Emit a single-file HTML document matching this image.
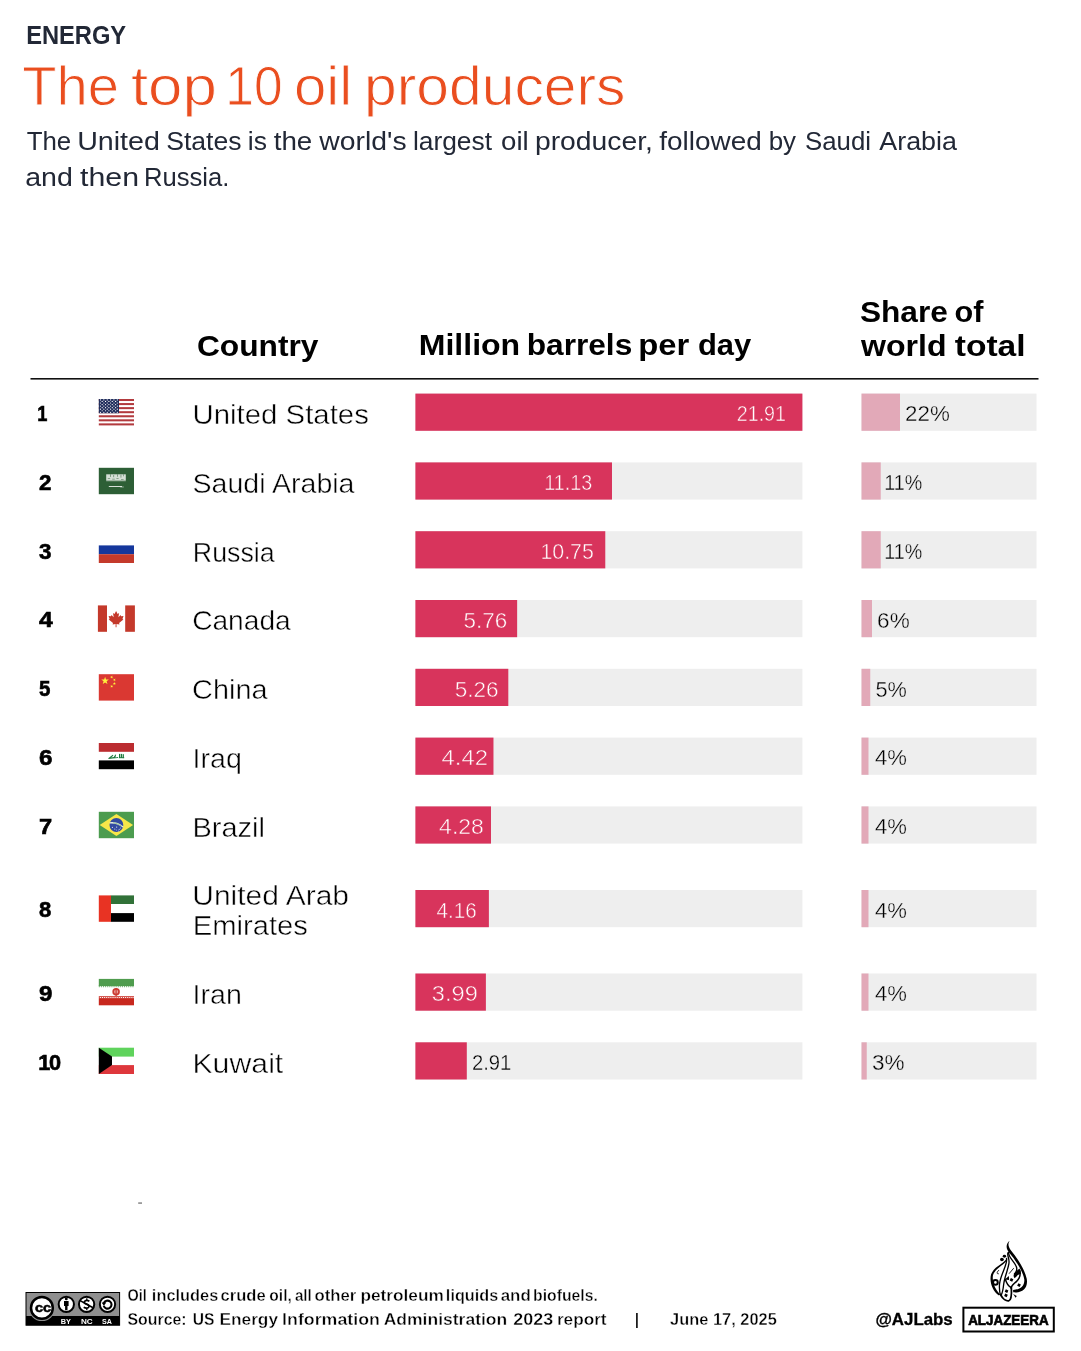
<!DOCTYPE html>
<html lang="en"><head><meta charset="utf-8"><title>The top 10 oil producers</title>
<style>html,body{margin:0;padding:0;background:#fff}svg{display:block}text{white-space:pre}</style></head>
<body>
<svg width="1081" height="1351" viewBox="0 0 1081 1351">
<rect width="1081" height="1351" fill="#fff"/>
<rect x="30.50" y="378.00" width="1008.00" height="1.60" fill="#111"/>
<rect x="415.40" y="393.60" width="387.00" height="37.20" fill="#eeeeee"/>
<rect x="415.40" y="393.60" width="387.00" height="37.20" fill="#d8345c"/>
<rect x="861.50" y="393.60" width="175.00" height="37.20" fill="#eeeeee"/>
<rect x="861.50" y="393.60" width="38.50" height="37.20" fill="#e2a9b8"/>
<rect x="415.40" y="462.40" width="387.00" height="37.20" fill="#eeeeee"/>
<rect x="415.40" y="462.40" width="196.59" height="37.20" fill="#d8345c"/>
<rect x="861.50" y="462.40" width="175.00" height="37.20" fill="#eeeeee"/>
<rect x="861.50" y="462.40" width="19.25" height="37.20" fill="#e2a9b8"/>
<rect x="415.40" y="531.20" width="387.00" height="37.20" fill="#eeeeee"/>
<rect x="415.40" y="531.20" width="189.88" height="37.20" fill="#d8345c"/>
<rect x="861.50" y="531.20" width="175.00" height="37.20" fill="#eeeeee"/>
<rect x="861.50" y="531.20" width="19.25" height="37.20" fill="#e2a9b8"/>
<rect x="415.40" y="600.00" width="387.00" height="37.20" fill="#eeeeee"/>
<rect x="415.40" y="600.00" width="101.74" height="37.20" fill="#d8345c"/>
<rect x="861.50" y="600.00" width="175.00" height="37.20" fill="#eeeeee"/>
<rect x="861.50" y="600.00" width="10.50" height="37.20" fill="#e2a9b8"/>
<rect x="415.40" y="668.80" width="387.00" height="37.20" fill="#eeeeee"/>
<rect x="415.40" y="668.80" width="92.91" height="37.20" fill="#d8345c"/>
<rect x="861.50" y="668.80" width="175.00" height="37.20" fill="#eeeeee"/>
<rect x="861.50" y="668.80" width="8.75" height="37.20" fill="#e2a9b8"/>
<rect x="415.40" y="737.60" width="387.00" height="37.20" fill="#eeeeee"/>
<rect x="415.40" y="737.60" width="78.07" height="37.20" fill="#d8345c"/>
<rect x="861.50" y="737.60" width="175.00" height="37.20" fill="#eeeeee"/>
<rect x="861.50" y="737.60" width="7.00" height="37.20" fill="#e2a9b8"/>
<rect x="415.40" y="806.40" width="387.00" height="37.20" fill="#eeeeee"/>
<rect x="415.40" y="806.40" width="75.60" height="37.20" fill="#d8345c"/>
<rect x="861.50" y="806.40" width="175.00" height="37.20" fill="#eeeeee"/>
<rect x="861.50" y="806.40" width="7.00" height="37.20" fill="#e2a9b8"/>
<rect x="415.40" y="890.00" width="387.00" height="37.20" fill="#eeeeee"/>
<rect x="415.40" y="890.00" width="73.48" height="37.20" fill="#d8345c"/>
<rect x="861.50" y="890.00" width="175.00" height="37.20" fill="#eeeeee"/>
<rect x="861.50" y="890.00" width="7.00" height="37.20" fill="#e2a9b8"/>
<rect x="415.40" y="973.50" width="387.00" height="37.20" fill="#eeeeee"/>
<rect x="415.40" y="973.50" width="70.48" height="37.20" fill="#d8345c"/>
<rect x="861.50" y="973.50" width="175.00" height="37.20" fill="#eeeeee"/>
<rect x="861.50" y="973.50" width="7.00" height="37.20" fill="#e2a9b8"/>
<rect x="415.40" y="1042.30" width="387.00" height="37.20" fill="#eeeeee"/>
<rect x="415.40" y="1042.30" width="51.40" height="37.20" fill="#d8345c"/>
<rect x="861.50" y="1042.30" width="175.00" height="37.20" fill="#eeeeee"/>
<rect x="861.50" y="1042.30" width="5.25" height="37.20" fill="#e2a9b8"/>
<g transform="translate(98.8 399.00)"><rect x="0" y="0.00" width="35.2" height="2.03" fill="#b23a3e"/><rect x="0" y="4.06" width="35.2" height="2.03" fill="#b23a3e"/><rect x="0" y="8.12" width="35.2" height="2.03" fill="#b23a3e"/><rect x="0" y="12.18" width="35.2" height="2.03" fill="#b23a3e"/><rect x="0" y="16.25" width="35.2" height="2.03" fill="#b23a3e"/><rect x="0" y="20.31" width="35.2" height="2.03" fill="#b23a3e"/><rect x="0" y="24.37" width="35.2" height="2.03" fill="#b23a3e"/><rect x="0" y="0" width="20.2" height="14.22" fill="#202d5c"/><circle cx="1.70" cy="0.90" r="0.62" fill="#fff"/><circle cx="5.06" cy="0.90" r="0.62" fill="#fff"/><circle cx="8.42" cy="0.90" r="0.62" fill="#fff"/><circle cx="11.78" cy="0.90" r="0.62" fill="#fff"/><circle cx="15.14" cy="0.90" r="0.62" fill="#fff"/><circle cx="18.50" cy="0.90" r="0.62" fill="#fff"/><circle cx="3.38" cy="2.45" r="0.62" fill="#fff"/><circle cx="6.74" cy="2.45" r="0.62" fill="#fff"/><circle cx="10.10" cy="2.45" r="0.62" fill="#fff"/><circle cx="13.46" cy="2.45" r="0.62" fill="#fff"/><circle cx="16.82" cy="2.45" r="0.62" fill="#fff"/><circle cx="1.70" cy="4.00" r="0.62" fill="#fff"/><circle cx="5.06" cy="4.00" r="0.62" fill="#fff"/><circle cx="8.42" cy="4.00" r="0.62" fill="#fff"/><circle cx="11.78" cy="4.00" r="0.62" fill="#fff"/><circle cx="15.14" cy="4.00" r="0.62" fill="#fff"/><circle cx="18.50" cy="4.00" r="0.62" fill="#fff"/><circle cx="3.38" cy="5.55" r="0.62" fill="#fff"/><circle cx="6.74" cy="5.55" r="0.62" fill="#fff"/><circle cx="10.10" cy="5.55" r="0.62" fill="#fff"/><circle cx="13.46" cy="5.55" r="0.62" fill="#fff"/><circle cx="16.82" cy="5.55" r="0.62" fill="#fff"/><circle cx="1.70" cy="7.10" r="0.62" fill="#fff"/><circle cx="5.06" cy="7.10" r="0.62" fill="#fff"/><circle cx="8.42" cy="7.10" r="0.62" fill="#fff"/><circle cx="11.78" cy="7.10" r="0.62" fill="#fff"/><circle cx="15.14" cy="7.10" r="0.62" fill="#fff"/><circle cx="18.50" cy="7.10" r="0.62" fill="#fff"/><circle cx="3.38" cy="8.65" r="0.62" fill="#fff"/><circle cx="6.74" cy="8.65" r="0.62" fill="#fff"/><circle cx="10.10" cy="8.65" r="0.62" fill="#fff"/><circle cx="13.46" cy="8.65" r="0.62" fill="#fff"/><circle cx="16.82" cy="8.65" r="0.62" fill="#fff"/><circle cx="1.70" cy="10.20" r="0.62" fill="#fff"/><circle cx="5.06" cy="10.20" r="0.62" fill="#fff"/><circle cx="8.42" cy="10.20" r="0.62" fill="#fff"/><circle cx="11.78" cy="10.20" r="0.62" fill="#fff"/><circle cx="15.14" cy="10.20" r="0.62" fill="#fff"/><circle cx="18.50" cy="10.20" r="0.62" fill="#fff"/><circle cx="3.38" cy="11.75" r="0.62" fill="#fff"/><circle cx="6.74" cy="11.75" r="0.62" fill="#fff"/><circle cx="10.10" cy="11.75" r="0.62" fill="#fff"/><circle cx="13.46" cy="11.75" r="0.62" fill="#fff"/><circle cx="16.82" cy="11.75" r="0.62" fill="#fff"/><circle cx="1.70" cy="13.30" r="0.62" fill="#fff"/><circle cx="5.06" cy="13.30" r="0.62" fill="#fff"/><circle cx="8.42" cy="13.30" r="0.62" fill="#fff"/><circle cx="11.78" cy="13.30" r="0.62" fill="#fff"/><circle cx="15.14" cy="13.30" r="0.62" fill="#fff"/><circle cx="18.50" cy="13.30" r="0.62" fill="#fff"/></g>
<g transform="translate(98.8 467.80)"><rect width="35.2" height="26.4" fill="#2d5f36"/><g fill="#fff"><rect x="7.4" y="6.5" width="19.6" height="6.3" opacity=".8"/><rect x="7.4" y="12.8" width="19.6" height="0.8" opacity=".35"/><g fill="#2d5f36" opacity=".75"><rect x="11.2" y="6.5" width=".7" height="2.6"/><rect x="14.6" y="7.2" width=".7" height="2.2"/><rect x="18.3" y="6.5" width=".7" height="2.4"/><rect x="21.8" y="7" width=".7" height="2.8"/><rect x="24.6" y="6.5" width=".6" height="2"/><rect x="9" y="10.4" width="2.4" height=".6"/><rect x="13.4" y="11" width="2.6" height=".6"/><rect x="17.6" y="10.2" width="2.2" height=".6"/><rect x="22.2" y="11.2" width="2.6" height=".6"/></g><rect x="10" y="18.3" width="13.2" height="0.9" opacity=".9"/><rect x="21.4" y="18.8" width="3.6" height=".8" opacity=".6"/></g></g>
<g transform="translate(98.8 536.60)"><rect y="8.80" width="35.2" height="8.80" fill="#15379c"/><rect y="17.60" width="35.2" height="8.80" fill="#c43a2b"/></g>
<g transform="translate(98.8 605.40)"><rect x="-0.9" y="0" width="9.1" height="26.4" fill="#c4392b"/><rect x="26.4" y="0" width="9.7" height="26.4" fill="#c4392b"/><path fill="#c4392b" d="M17.3 5.6 l1.5 2.9 1.5-.8 -.7 4.2 2.2-2.2 .5 1.2 2.4-.4 -1 3.1 .9.5 -4.3 3.6 .4 1.3 -3-.4 v3.2 h-.9 v-3.2 l-3 .4 .4-1.3 -4.3-3.6 .9-.5 -1-3.1 2.4.4 .5-1.2 2.2 2.2 -.7-4.2 1.5.8z"/></g>
<g transform="translate(98.8 674.20)"><rect width="35.2" height="26.4" fill="#da3832"/><polygon fill="#fff03c" points="6.30,2.60 7.24,5.31 10.10,5.36 7.82,7.09 8.65,9.84 6.30,8.20 3.95,9.84 4.78,7.09 2.50,5.36 5.36,5.31"/><polygon fill="#fff03c" points="13.45,1.40 13.43,2.54 14.50,2.96 13.40,3.29 13.34,4.44 12.68,3.50 11.57,3.79 12.26,2.88 11.64,1.91 12.72,2.28"/><polygon fill="#fff03c" points="16.63,4.37 16.22,5.45 17.08,6.20 15.94,6.14 15.49,7.20 15.19,6.09 14.05,5.99 15.01,5.36 14.75,4.24 15.64,4.96"/><polygon fill="#fff03c" points="15.60,7.80 15.98,8.88 17.12,8.91 16.21,9.60 16.54,10.69 15.60,10.04 14.66,10.69 14.99,9.60 14.08,8.91 15.22,8.88"/><polygon fill="#fff03c" points="13.45,10.60 13.43,11.74 14.50,12.16 13.40,12.49 13.34,13.64 12.68,12.70 11.57,12.99 12.26,12.08 11.64,11.11 12.72,11.48"/></g>
<g transform="translate(98.8 743.00)"><rect width="35.2" height="8.8" fill="#bb2c30"/><rect y="17.4" width="35.2" height="8.8" fill="#000"/><g fill="#1e7a3e"><path d="M9.4 15.2 l4.6-3.4 .6 .7 -2.2 2 2.6-.4 1.6-2.6 .7.3 -.7 2.6 2.6-.3 v.9 l-5.5.5 -3.8.6z"/><rect x="20.2" y="10.9" width="1.2" height="4.1"/><rect x="22" y="10.9" width="1.2" height="4.1"/><rect x="23.8" y="11.2" width="1.3" height="3.9"/><rect x="20" y="14.2" width="5.4" height="1"/></g></g>
<g transform="translate(98.8 811.80)"><rect width="35.2" height="26.4" fill="#4c9c4f"/><polygon fill="#f8e749" points="0.9,13.2 17.6,2.2 34.3,13.2 17.6,24.2"/><circle cx="17.6" cy="13.2" r="6.9" fill="#3149a0"/><path d="M11 11.1 q7-.9 13.2 4.2" stroke="#e9efe6" stroke-width="1.3" fill="none"/><path d="M14.5 10.9 q4.5.6 8.6 3.6" stroke="#4c9c4f" stroke-width=".5" fill="none"/><g fill="#c9d1ea"><circle cx="13.6" cy="15.6" r=".6"/><circle cx="16" cy="17.3" r=".6"/><circle cx="17.8" cy="15.3" r=".7"/><circle cx="17.8" cy="18.3" r=".5"/><circle cx="20.4" cy="17.5" r=".6"/><circle cx="21.8" cy="16.2" r=".5"/><circle cx="19.6" cy="19.2" r=".5"/></g></g>
<g transform="translate(98.8 895.40)"><rect x="12" width="23.2" height="8.6" fill="#317138"/><rect x="12" y="17.7" width="23.2" height="8.7" fill="#000"/><rect width="12.2" height="26.4" fill="#e83323"/></g>
<g transform="translate(98.8 978.90)"><rect width="35.2" height="7.2" fill="#4f9c4e"/><rect y="19.2" width="35.2" height="7.2" fill="#c8281e"/><path d="M0 7.2 H35.2" stroke="#4f9c4e" stroke-width="2.4" stroke-dasharray="1.05 1.05" opacity=".75"/><rect y="17.1" width="35.2" height=".9" fill="#c8281e" opacity=".85"/><path d="M0 18.6 H35.2" stroke="#c8281e" stroke-width="1.2" stroke-dasharray="1.1 1.0" opacity=".8"/><g fill="#cb3a32" fill-opacity=".45" stroke="#cb3a32"><circle cx="17.3" cy="12.9" r="2.9" stroke-width="1.7"/><path d="M17.3 9 V17.2" stroke-width="1.2"/></g></g>
<g transform="translate(98.8 1047.70)"><rect width="35.2" height="8.9" fill="#5fd35c"/><rect y="17.4" width="35.2" height="8.9" fill="#de373c"/><polygon fill="#000" points="0,0 13.2,8.9 13.2,17.4 0,26.4"/></g>
<rect x="138.20" y="1202.20" width="3.80" height="1.80" fill="#9a9a9a"/>
<rect x="963.4" y="1307.7" width="90.4" height="23.8" fill="none" stroke="#000" stroke-width="2"/>
<g transform="translate(25.5 1292)"><rect x="0.5" y="0.5" width="93.6" height="32.7" fill="#8f8f8f" stroke="#000" stroke-width="1"/><rect x="0.5" y="24" width="93.6" height="9.2" fill="#000"/><circle cx="16.4" cy="15.9" r="13.2" fill="#8f8f8f"/><circle cx="16.4" cy="15.9" r="10.9" fill="#fff" stroke="#000" stroke-width="2.5"/><circle cx="40.8" cy="12.3" r="7.65" fill="#fff" stroke="#000" stroke-width="2"/><circle cx="61.1" cy="12.3" r="7.65" fill="#fff" stroke="#000" stroke-width="2"/><circle cx="82" cy="12.3" r="7.65" fill="#fff" stroke="#000" stroke-width="2"/><circle cx="40.8" cy="6.9" r="1.45" fill="#000"/><path d="M38.5 9 h4.6 v4.9 h-1.1 v4.3 h-2.4 v-4.3 h-1.1z" fill="#000"/><path d="M54.6 8.6 L67.6 15.8" stroke="#000" stroke-width="1.6"/><path d="M63.9 9.3 q-2.6-1.7-4.6-.2 q-1.6 1.9 1.7 3 q3.6 1.2 2.1 3.2 q-1.9 1.6-4.9-.1" fill="none" stroke="#000" stroke-width="1.7"/><path d="M61.3 6.3 V8.3 M61.3 16.4 V18.3" stroke="#000" stroke-width="1.3"/><path d="M78.3 11.2 a4 4 0 1 1 -.1 2.6" fill="none" stroke="#000" stroke-width="2.1"/><path d="M76 10.6 h4.8 l-2.4 3.1z" fill="#000"/></g>
<g transform="translate(980 1235) scale(0.0555)" fill="none" stroke="#000" stroke-linecap="round" stroke-linejoin="round"><path fill="#000" stroke="none" d="M534 104 C500 150 505 215 562 282 C690 440 805 620 842 790 C872 955 760 1052 598 1032 L596 990 C715 985 808 925 798 800 C768 640 640 450 515 305 C468 245 462 160 534 104Z"/><path fill="#000" stroke="none" d="M478 425 C430 525 262 560 200 705 C165 835 218 1005 342 1092 L368 1066 C282 1000 212 850 234 725 C272 600 432 545 488 452Z"/><g fill="#000" stroke="none"><ellipse cx="440" cy="382" rx="30" ry="26"/><ellipse cx="395" cy="442" rx="34" ry="30"/></g><path d="M478 420 C500 540 372 700 352 880 C345 980 352 1040 372 1085" stroke-width="24"/><path d="M505 318 C480 380 540 420 520 520 C500 640 440 760 425 900 C415 1000 400 1050 378 1090" stroke-width="24"/><path d="M380 1090 C410 1150 470 1195 520 1185 C565 1170 572 1080 565 950" stroke-width="32"/><path d="M515 315 C510 400 600 450 650 560 C680 620 660 660 620 700" stroke-width="24"/><path d="M718 640 C740 760 690 810 620 870 C580 905 560 930 560 960" stroke-width="28"/><path fill="#000" stroke="none" d="M715 605 L735 700 C680 720 650 745 625 780 C585 735 600 690 715 605Z"/><path d="M458 800 C480 880 520 925 560 945" stroke-width="28"/><path fill="#000" stroke="none" d="M448 800 L520 738 L525 812 Z"/><circle cx="278" cy="855" r="42" stroke-width="36"/><path d="M528 692 L603 603" stroke-width="16"/><path d="M338 636 C300 668 296 705 332 700" stroke-width="15"/><g fill="#000" stroke="none"><rect x="543" y="783" width="50" height="50" transform="rotate(25 568 808)"/><rect x="678" y="878" width="50" height="50" transform="rotate(25 703 903)"/><rect x="453" y="986" width="50" height="50" transform="rotate(25 478 1011)"/><rect x="443" y="1062" width="50" height="50" transform="rotate(25 468 1087)"/><path d="M598 1062 L662 1098 L642 1132 Z"/></g></g>
<text transform="translate(26.13 44.25) scale(0.9333 1)" font-family="'Liberation Sans', sans-serif" font-weight="bold" font-size="25.4" fill="#222836">ENERGY</text>
<text transform="translate(22.29 104.60) scale(1.0097 1)" font-family="'Liberation Sans', sans-serif" font-weight="normal" font-size="55.6" fill="#ea4e1f" stroke="#fff" stroke-width="0.9">The</text>
<text transform="translate(130.89 104.60) scale(1.1122 1)" font-family="'Liberation Sans', sans-serif" font-weight="normal" font-size="55.6" fill="#ea4e1f" stroke="#fff" stroke-width="0.9">top</text>
<text transform="translate(225.29 104.60) scale(0.9268 1)" font-family="'Liberation Sans', sans-serif" font-weight="normal" font-size="55.6" fill="#ea4e1f" stroke="#fff" stroke-width="0.9">10</text>
<text transform="translate(293.91 104.60) scale(1.0460 1)" font-family="'Liberation Sans', sans-serif" font-weight="normal" font-size="55.6" fill="#ea4e1f" stroke="#fff" stroke-width="0.9">oil</text>
<text transform="translate(364.03 104.60) scale(1.0579 1)" font-family="'Liberation Sans', sans-serif" font-weight="normal" font-size="55.6" fill="#ea4e1f" stroke="#fff" stroke-width="0.9">producers</text>
<text transform="translate(26.70 149.50) scale(0.9756 1)" font-family="'Liberation Sans', sans-serif" font-weight="normal" font-size="26.5" fill="#222836">The</text>
<text transform="translate(77.14 149.50) scale(1.0808 1)" font-family="'Liberation Sans', sans-serif" font-weight="normal" font-size="26.5" fill="#222836">United</text>
<text transform="translate(166.20 149.50) scale(1.0027 1)" font-family="'Liberation Sans', sans-serif" font-weight="normal" font-size="26.5" fill="#222836">States</text>
<text transform="translate(247.80 149.50) scale(1.0000 1)" font-family="'Liberation Sans', sans-serif" font-weight="normal" font-size="26.5" fill="#222836">is</text>
<text transform="translate(273.70 149.50) scale(1.0472 1)" font-family="'Liberation Sans', sans-serif" font-weight="normal" font-size="26.5" fill="#222836">the</text>
<text transform="translate(319.30 149.50) scale(1.0691 1)" font-family="'Liberation Sans', sans-serif" font-weight="normal" font-size="26.5" fill="#222836">world&#x27;s</text>
<text transform="translate(412.91 149.50) scale(0.9949 1)" font-family="'Liberation Sans', sans-serif" font-weight="normal" font-size="26.5" fill="#222836">largest</text>
<text transform="translate(501.06 149.50) scale(1.0417 1)" font-family="'Liberation Sans', sans-serif" font-weight="normal" font-size="26.5" fill="#222836">oil</text>
<text transform="translate(534.96 149.50) scale(1.0679 1)" font-family="'Liberation Sans', sans-serif" font-weight="normal" font-size="26.5" fill="#222836">producer,</text>
<text transform="translate(659.30 149.50) scale(1.0552 1)" font-family="'Liberation Sans', sans-serif" font-weight="normal" font-size="26.5" fill="#222836">followed</text>
<text transform="translate(768.65 149.50) scale(0.9769 1)" font-family="'Liberation Sans', sans-serif" font-weight="normal" font-size="26.5" fill="#222836">by</text>
<text transform="translate(805.03 149.50) scale(0.9738 1)" font-family="'Liberation Sans', sans-serif" font-weight="normal" font-size="26.5" fill="#222836">Saudi</text>
<text transform="translate(879.30 149.50) scale(1.0130 1)" font-family="'Liberation Sans', sans-serif" font-weight="normal" font-size="26.5" fill="#222836">Arabia</text>
<text transform="translate(25.22 185.50) scale(1.0786 1)" font-family="'Liberation Sans', sans-serif" font-weight="normal" font-size="26.5" fill="#222836">and</text>
<text transform="translate(80.00 185.50) scale(1.1440 1)" font-family="'Liberation Sans', sans-serif" font-weight="normal" font-size="26.5" fill="#222836">then</text>
<text transform="translate(143.97 185.50) scale(0.9667 1)" font-family="'Liberation Sans', sans-serif" font-weight="normal" font-size="26.5" fill="#222836">Russia.</text>
<text transform="translate(196.91 355.50) scale(1.0932 1)" font-family="'Liberation Sans', sans-serif" font-weight="bold" font-size="29" fill="#000">Country</text>
<text transform="translate(418.79 355.30) scale(1.1045 1)" font-family="'Liberation Sans', sans-serif" font-weight="bold" font-size="29" fill="#000">Million</text>
<text transform="translate(526.72 355.30) scale(1.0914 1)" font-family="'Liberation Sans', sans-serif" font-weight="bold" font-size="29" fill="#000">barrels</text>
<text transform="translate(638.14 355.30) scale(1.1302 1)" font-family="'Liberation Sans', sans-serif" font-weight="bold" font-size="29" fill="#000">per</text>
<text transform="translate(697.93 355.30) scale(1.0673 1)" font-family="'Liberation Sans', sans-serif" font-weight="bold" font-size="29" fill="#000">day</text>
<text transform="translate(859.91 322.00) scale(1.0918 1)" font-family="'Liberation Sans', sans-serif" font-weight="bold" font-size="29" fill="#000">Share</text>
<text transform="translate(954.44 322.00) scale(1.0556 1)" font-family="'Liberation Sans', sans-serif" font-weight="bold" font-size="29" fill="#000">of</text>
<text transform="translate(861.00 355.50) scale(1.1067 1)" font-family="'Liberation Sans', sans-serif" font-weight="bold" font-size="29" fill="#000">world</text>
<text transform="translate(954.75 355.50) scale(1.1568 1)" font-family="'Liberation Sans', sans-serif" font-weight="bold" font-size="29" fill="#000">total</text>
<text transform="translate(37.72 420.90) scale(0.8600 1)" dx="-0.64" font-family="'Liberation Sans', sans-serif" font-weight="bold" font-size="21.2" fill="#000" stroke="#000" stroke-width="0.6">1</text>
<text transform="translate(192.41 423.90) scale(1.0975 1)" font-family="'Liberation Sans', sans-serif" font-weight="normal" font-size="26.8" fill="#000" stroke="#fff" stroke-width="0.45">United States</text>
<text transform="translate(736.74 421.40) scale(0.8600 1)" font-family="'Liberation Sans', sans-serif" font-weight="normal" font-size="22.9" fill="#fff" stroke="#d8345c" stroke-width="0.5">21.91</text>
<text transform="translate(905.02 421.40) scale(0.9773 1)" font-family="'Liberation Sans', sans-serif" font-weight="normal" font-size="22.9" fill="#000" stroke="#eeeeee" stroke-width="0.35">22%</text>
<text transform="translate(39.00 489.70) scale(1.0545 1)" font-family="'Liberation Sans', sans-serif" font-weight="bold" font-size="21.2" fill="#000" stroke="#000" stroke-width="0.6">2</text>
<text transform="translate(192.53 492.70) scale(1.0662 1)" font-family="'Liberation Sans', sans-serif" font-weight="normal" font-size="26.8" fill="#000" stroke="#fff" stroke-width="0.45">Saudi Arabia</text>
<text transform="translate(544.34 490.20) scale(0.8600 1)" font-family="'Liberation Sans', sans-serif" font-weight="normal" font-size="22.9" fill="#fff" stroke="#d8345c" stroke-width="0.5">11.13</text>
<text transform="translate(884.30 490.20) scale(0.8600 1)" font-family="'Liberation Sans', sans-serif" font-weight="normal" font-size="22.9" fill="#000" stroke="#eeeeee" stroke-width="0.35">11%</text>
<text transform="translate(39.00 558.50) scale(1.0545 1)" font-family="'Liberation Sans', sans-serif" font-weight="bold" font-size="21.2" fill="#000" stroke="#000" stroke-width="0.6">3</text>
<text transform="translate(192.80 561.50) scale(1.0000 1)" font-family="'Liberation Sans', sans-serif" font-weight="normal" font-size="26.8" fill="#000" stroke="#fff" stroke-width="0.45">Russia</text>
<text transform="translate(540.43 559.00) scale(0.9333 1)" font-family="'Liberation Sans', sans-serif" font-weight="normal" font-size="22.9" fill="#fff" stroke="#d8345c" stroke-width="0.5">10.75</text>
<text transform="translate(884.30 559.00) scale(0.8600 1)" font-family="'Liberation Sans', sans-serif" font-weight="normal" font-size="22.9" fill="#000" stroke="#eeeeee" stroke-width="0.35">11%</text>
<text transform="translate(39.00 627.30) scale(1.1667 1)" font-family="'Liberation Sans', sans-serif" font-weight="bold" font-size="21.2" fill="#000" stroke="#000" stroke-width="0.6">4</text>
<text transform="translate(192.15 630.30) scale(1.0505 1)" font-family="'Liberation Sans', sans-serif" font-weight="normal" font-size="26.8" fill="#000" stroke="#fff" stroke-width="0.45">Canada</text>
<text transform="translate(463.52 627.80) scale(0.9814 1)" font-family="'Liberation Sans', sans-serif" font-weight="normal" font-size="22.9" fill="#fff" stroke="#d8345c" stroke-width="0.5">5.76</text>
<text transform="translate(877.12 627.80) scale(0.9839 1)" font-family="'Liberation Sans', sans-serif" font-weight="normal" font-size="22.9" fill="#000" stroke="#eeeeee" stroke-width="0.35">6%</text>
<text transform="translate(39.00 696.10) scale(0.9667 1)" font-family="'Liberation Sans', sans-serif" font-weight="bold" font-size="21.2" fill="#000" stroke="#000" stroke-width="0.6">5</text>
<text transform="translate(192.12 699.10) scale(1.0768 1)" font-family="'Liberation Sans', sans-serif" font-weight="normal" font-size="26.8" fill="#000" stroke="#fff" stroke-width="0.45">China</text>
<text transform="translate(454.82 696.60) scale(0.9837 1)" font-family="'Liberation Sans', sans-serif" font-weight="normal" font-size="22.9" fill="#fff" stroke="#d8345c" stroke-width="0.5">5.26</text>
<text transform="translate(875.55 696.60) scale(0.9484 1)" font-family="'Liberation Sans', sans-serif" font-weight="normal" font-size="22.9" fill="#000" stroke="#eeeeee" stroke-width="0.35">5%</text>
<text transform="translate(39.00 764.90) scale(1.1364 1)" font-family="'Liberation Sans', sans-serif" font-weight="bold" font-size="21.2" fill="#000" stroke="#000" stroke-width="0.6">6</text>
<text transform="translate(192.57 767.90) scale(1.0674 1)" font-family="'Liberation Sans', sans-serif" font-weight="normal" font-size="26.8" fill="#000" stroke="#fff" stroke-width="0.45">Iraq</text>
<text transform="translate(441.50 765.40) scale(1.0419 1)" font-family="'Liberation Sans', sans-serif" font-weight="normal" font-size="22.9" fill="#fff" stroke="#d8345c" stroke-width="0.5">4.42</text>
<text transform="translate(875.00 765.40) scale(0.9656 1)" font-family="'Liberation Sans', sans-serif" font-weight="normal" font-size="22.9" fill="#000" stroke="#eeeeee" stroke-width="0.35">4%</text>
<text transform="translate(39.00 833.70) scale(1.1182 1)" font-family="'Liberation Sans', sans-serif" font-weight="bold" font-size="21.2" fill="#000" stroke="#000" stroke-width="0.6">7</text>
<text transform="translate(192.54 836.70) scale(1.0810 1)" font-family="'Liberation Sans', sans-serif" font-weight="normal" font-size="26.8" fill="#000" stroke="#fff" stroke-width="0.45">Brazil</text>
<text transform="translate(439.10 834.20) scale(1.0045 1)" font-family="'Liberation Sans', sans-serif" font-weight="normal" font-size="22.9" fill="#fff" stroke="#d8345c" stroke-width="0.5">4.28</text>
<text transform="translate(875.00 834.20) scale(0.9656 1)" font-family="'Liberation Sans', sans-serif" font-weight="normal" font-size="22.9" fill="#000" stroke="#eeeeee" stroke-width="0.35">4%</text>
<text transform="translate(39.00 917.30) scale(1.0417 1)" font-family="'Liberation Sans', sans-serif" font-weight="bold" font-size="21.2" fill="#000" stroke="#000" stroke-width="0.6">8</text>
<text transform="translate(192.26 905.40) scale(1.1197 1)" font-family="'Liberation Sans', sans-serif" font-weight="normal" font-size="26.8" fill="#000" stroke="#fff" stroke-width="0.45">United Arab</text>
<text transform="translate(192.72 935.10) scale(1.0903 1)" font-family="'Liberation Sans', sans-serif" font-weight="normal" font-size="26.8" fill="#000" stroke="#fff" stroke-width="0.45">Emirates</text>
<text transform="translate(436.60 917.80) scale(0.9000 1)" font-family="'Liberation Sans', sans-serif" font-weight="normal" font-size="22.9" fill="#fff" stroke="#d8345c" stroke-width="0.5">4.16</text>
<text transform="translate(875.00 917.80) scale(0.9656 1)" font-family="'Liberation Sans', sans-serif" font-weight="normal" font-size="22.9" fill="#000" stroke="#eeeeee" stroke-width="0.35">4%</text>
<text transform="translate(39.00 1000.80) scale(1.1364 1)" font-family="'Liberation Sans', sans-serif" font-weight="bold" font-size="21.2" fill="#000" stroke="#000" stroke-width="0.6">9</text>
<text transform="translate(192.57 1003.80) scale(1.0674 1)" font-family="'Liberation Sans', sans-serif" font-weight="normal" font-size="26.8" fill="#000" stroke="#fff" stroke-width="0.45">Iran</text>
<text transform="translate(431.87 1001.30) scale(1.0310 1)" font-family="'Liberation Sans', sans-serif" font-weight="normal" font-size="22.9" fill="#fff" stroke="#d8345c" stroke-width="0.5">3.99</text>
<text transform="translate(875.00 1001.30) scale(0.9656 1)" font-family="'Liberation Sans', sans-serif" font-weight="normal" font-size="22.9" fill="#000" stroke="#eeeeee" stroke-width="0.35">4%</text>
<text transform="translate(39.00 1069.60) scale(1.0238 1)" dx="-0.64 -1.27" font-family="'Liberation Sans', sans-serif" font-weight="bold" font-size="21.2" fill="#000" stroke="#000" stroke-width="0.6">10</text>
<text transform="translate(192.44 1072.60) scale(1.1295 1)" font-family="'Liberation Sans', sans-serif" font-weight="normal" font-size="26.8" fill="#000" stroke="#fff" stroke-width="0.45">Kuwait</text>
<text transform="translate(471.92 1070.10) scale(0.8833 1)" font-family="'Liberation Sans', sans-serif" font-weight="normal" font-size="22.9" fill="#000" stroke="#eeeeee" stroke-width="0.35">2.91</text>
<text transform="translate(872.02 1070.10) scale(0.9839 1)" font-family="'Liberation Sans', sans-serif" font-weight="normal" font-size="22.9" fill="#000" stroke="#eeeeee" stroke-width="0.35">3%</text>
<text transform="translate(127.58 1300.70) scale(0.9158 1)" font-family="'Liberation Sans', sans-serif" font-weight="bold" font-size="15.8" fill="#000" stroke="#fff" stroke-width="0.35">Oil</text>
<text transform="translate(151.86 1300.70) scale(1.0371 1)" font-family="'Liberation Sans', sans-serif" font-weight="bold" font-size="15.8" fill="#000" stroke="#fff" stroke-width="0.35">includes</text>
<text transform="translate(220.55 1300.70) scale(1.0476 1)" font-family="'Liberation Sans', sans-serif" font-weight="bold" font-size="15.8" fill="#000" stroke="#fff" stroke-width="0.35">crude</text>
<text transform="translate(269.31 1300.70) scale(0.9857 1)" font-family="'Liberation Sans', sans-serif" font-weight="bold" font-size="15.8" fill="#000" stroke="#fff" stroke-width="0.35">oil,</text>
<text transform="translate(294.90 1300.70) scale(0.9588 1)" font-family="'Liberation Sans', sans-serif" font-weight="bold" font-size="15.8" fill="#000" stroke="#fff" stroke-width="0.35">all</text>
<text transform="translate(314.54 1300.70) scale(1.0579 1)" font-family="'Liberation Sans', sans-serif" font-weight="bold" font-size="15.8" fill="#000" stroke="#fff" stroke-width="0.35">other</text>
<text transform="translate(360.41 1300.70) scale(1.0919 1)" font-family="'Liberation Sans', sans-serif" font-weight="bold" font-size="15.8" fill="#000" stroke="#fff" stroke-width="0.35">petroleum</text>
<text transform="translate(445.87 1300.70) scale(1.0286 1)" font-family="'Liberation Sans', sans-serif" font-weight="bold" font-size="15.8" fill="#000" stroke="#fff" stroke-width="0.35">liquids</text>
<text transform="translate(500.70 1300.70) scale(1.0704 1)" font-family="'Liberation Sans', sans-serif" font-weight="bold" font-size="15.8" fill="#000" stroke="#fff" stroke-width="0.35">and</text>
<text transform="translate(533.10 1300.70) scale(0.9984 1)" font-family="'Liberation Sans', sans-serif" font-weight="bold" font-size="15.8" fill="#000" stroke="#fff" stroke-width="0.35">biofuels.</text>
<text transform="translate(127.49 1324.60) scale(1.0054 1)" font-family="'Liberation Sans', sans-serif" font-weight="bold" font-size="15.8" fill="#000" stroke="#fff" stroke-width="0.35">Source:</text>
<text transform="translate(192.81 1324.60) scale(0.9905 1)" font-family="'Liberation Sans', sans-serif" font-weight="bold" font-size="15.8" fill="#000" stroke="#fff" stroke-width="0.35">US</text>
<text transform="translate(219.40 1324.60) scale(1.0962 1)" font-family="'Liberation Sans', sans-serif" font-weight="bold" font-size="15.8" fill="#000" stroke="#fff" stroke-width="0.35">Energy</text>
<text transform="translate(282.07 1324.60) scale(1.1271 1)" font-family="'Liberation Sans', sans-serif" font-weight="bold" font-size="15.8" fill="#000" stroke="#fff" stroke-width="0.35">Information</text>
<text transform="translate(383.70 1324.60) scale(1.1090 1)" font-family="'Liberation Sans', sans-serif" font-weight="bold" font-size="15.8" fill="#000" stroke="#fff" stroke-width="0.35">Administration</text>
<text transform="translate(513.20 1324.60) scale(1.1371 1)" font-family="'Liberation Sans', sans-serif" font-weight="bold" font-size="15.8" fill="#000" stroke="#fff" stroke-width="0.35">2023</text>
<text transform="translate(556.91 1324.60) scale(1.0889 1)" font-family="'Liberation Sans', sans-serif" font-weight="bold" font-size="15.8" fill="#000" stroke="#fff" stroke-width="0.35">report</text>
<text transform="translate(635.08 1324.60) scale(0.8600 1)" font-family="'Liberation Sans', sans-serif" font-weight="bold" font-size="15.8" fill="#111">|</text>
<text transform="translate(670.00 1324.60) scale(1.0392 1)" font-family="'Liberation Sans', sans-serif" font-weight="bold" font-size="15.8" fill="#000" stroke="#fff" stroke-width="0.35">June 17, 2025</text>
<text transform="translate(875.43 1325.20) scale(1.0676 1)" font-family="'Liberation Sans', sans-serif" font-weight="bold" font-size="15.8" fill="#000" stroke="#000" stroke-width="0.3">@AJLabs</text>
<text transform="translate(968.20 1324.60) scale(0.9056 1)" font-family="'Liberation Sans', sans-serif" font-weight="bold" font-size="14.8" fill="#000" stroke="#000" stroke-width="0.7">ALJAZEERA</text>
<text transform="translate(35.00 1311.70) scale(1.1923 1)" font-family="'Liberation Sans', sans-serif" font-weight="bold" font-size="12.2" fill="#000" stroke="#000" stroke-width="0.5">cc</text>
<text transform="translate(60.70 1323.50) scale(0.9900 1)" font-family="'Liberation Sans', sans-serif" font-weight="bold" font-size="7.4" fill="#fff">BY</text>
<text transform="translate(81.00 1323.50) scale(1.1000 1)" font-family="'Liberation Sans', sans-serif" font-weight="bold" font-size="7.4" fill="#fff">NC</text>
<text transform="translate(101.90 1323.50) scale(0.9700 1)" font-family="'Liberation Sans', sans-serif" font-weight="bold" font-size="7.4" fill="#fff">SA</text>

</svg>
</body></html>
